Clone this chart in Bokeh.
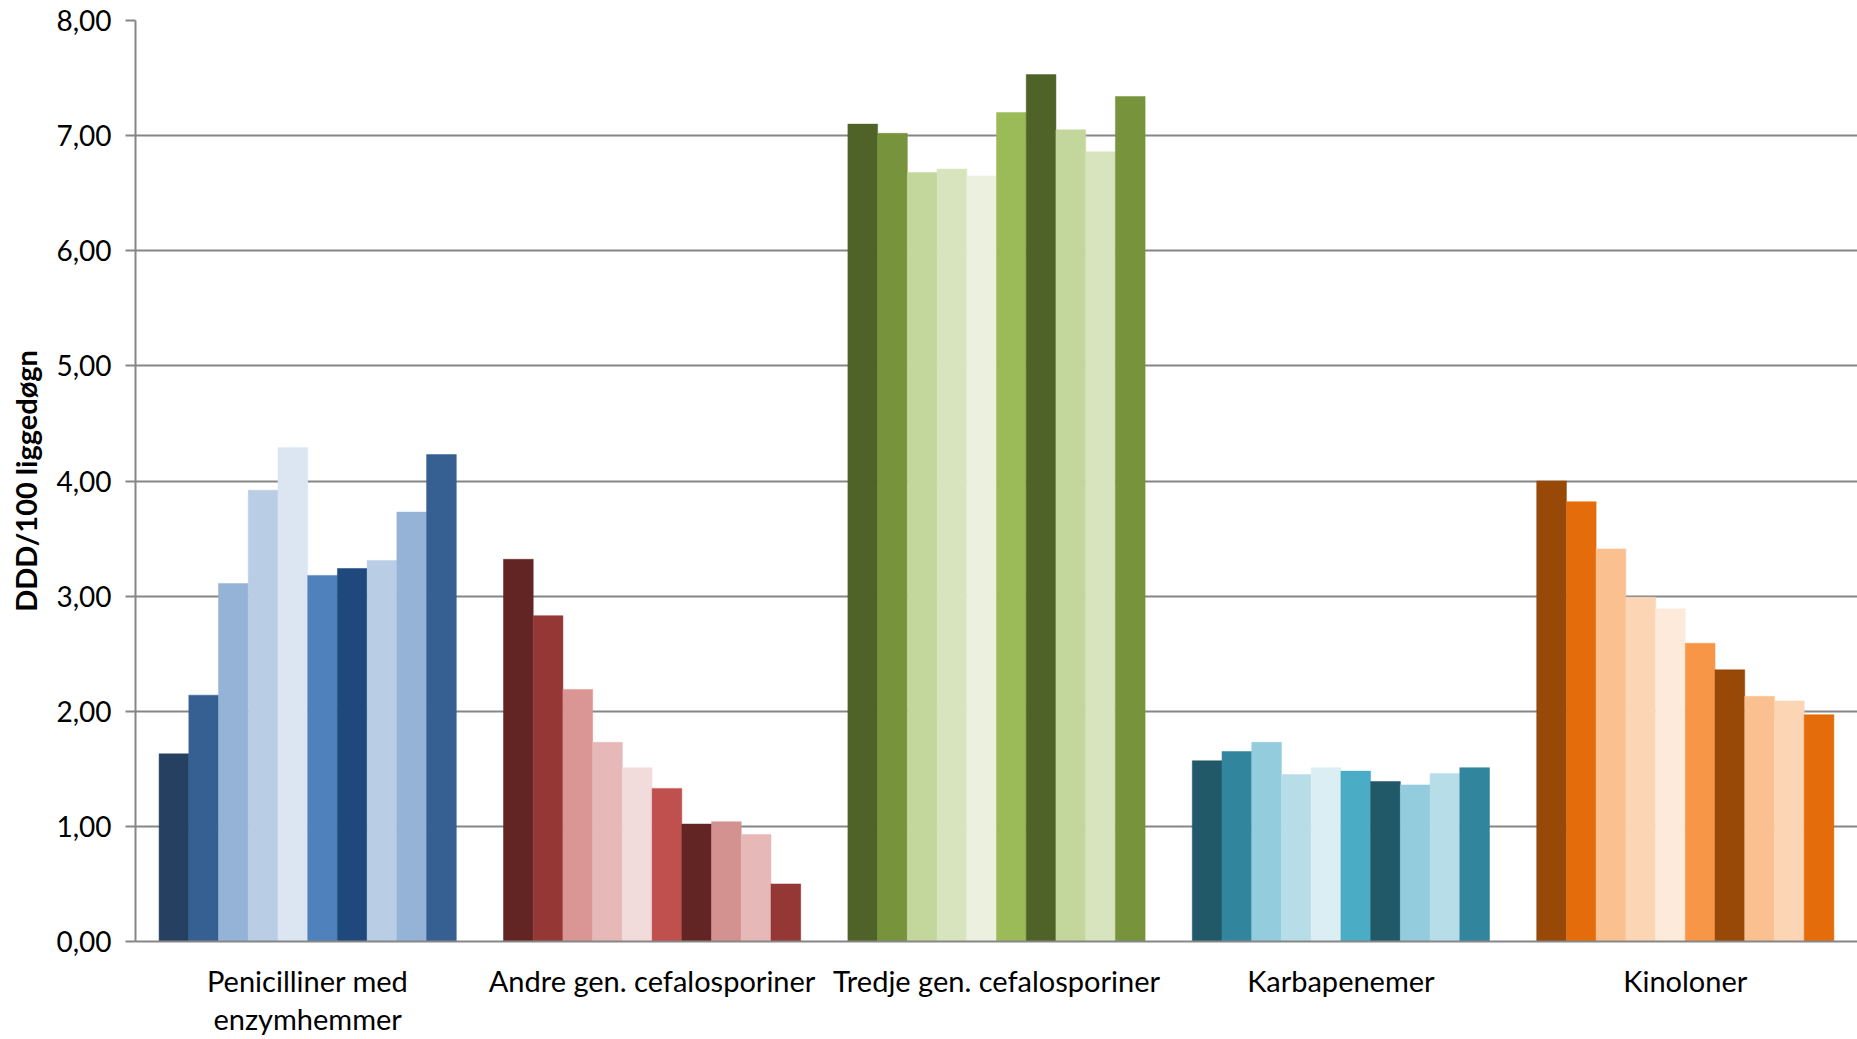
from bokeh.plotting import figure
from bokeh.models import FactorRange, FixedTicker, ColumnDataSource
from bokeh.transform import dodge
from bokeh.embed import file_html
from bokeh.resources import INLINE

categories = ["Penicilliner med\nenzymhemmer", "Andre gen. cefalosporiner",
              "Tredje gen. cefalosporiner", "Karbapenemer", "Kinoloner"]
series = ["Serie 1", "Serie 2", "Serie 3", "Serie 4", "Serie 5",
          "Serie 6", "Serie 7", "Serie 8", "Serie 9", "Serie 10"]

penicilliner = [1.63, 2.14, 3.11, 3.92, 4.29, 3.18, 3.24, 3.31, 3.73, 4.23]
andre_gen = [3.32, 2.83, 2.19, 1.73, 1.51, 1.33, 1.02, 1.04, 0.93, 0.50]
tredje_gen = [7.10, 7.02, 6.68, 6.71, 6.65, 7.20, 7.53, 7.05, 6.86, 7.34]
karbapenemer = [1.57, 1.65, 1.73, 1.45, 1.51, 1.48, 1.39, 1.36, 1.46, 1.51]
kinoloner = [4.00, 3.82, 3.41, 2.99, 2.89, 2.59, 2.36, 2.13, 2.09, 1.97]

blue = ["#254061", "#366092", "#95B3D7", "#B9CDE5", "#DCE6F2",
        "#4F81BD", "#1F497D", "#B9CDE5", "#95B3D7", "#366092"]
red = ["#632523", "#953735", "#D99694", "#E6B9B8", "#F2DCDB",
       "#C0504D", "#632523", "#D39190", "#E6B9B8", "#953735"]
green = ["#4F6228", "#77933C", "#C3D69B", "#D7E4BD", "#EBF1DE",
         "#9BBB59", "#4F6228", "#C3D69B", "#D7E4BD", "#77933C"]
teal = ["#215968", "#31859C", "#93CDDD", "#B7DEE8", "#DBEEF4",
        "#4BACC6", "#215968", "#93CDDD", "#B7DEE8", "#31859C"]
orange = ["#984807", "#E46C0A", "#FAC090", "#FCD5B5", "#FDEADA",
          "#F79646", "#984807", "#FAC090", "#FCD5B5", "#E46C0A"]

y_ticks = [0, 1, 2, 3, 4, 5, 6, 7, 8]
y_tick_labels = ["0,00", "1,00", "2,00", "3,00", "4,00", "5,00", "6,00", "7,00", "8,00"]

groups = [penicilliner, andre_gen, tredje_gen, karbapenemer, kinoloner]
group_colors = [blue, red, green, teal, orange]

FONT = "Lato"
GRID = "#868686"

p = figure(x_range=FactorRange(*categories, range_padding=0),
           y_range=(0, 8), width=1857, height=1039,
           output_backend="svg", toolbar_location=None,
           min_border_left=135, min_border_right=0,
           min_border_top=20, min_border_bottom=87)
p.outline_line_color = None
p.background_fill_color = "white"
p.border_fill_color = "white"

bar_w = 0.0863
for j, name in enumerate(series):
    src = ColumnDataSource(dict(cat=categories,
                                top=[g[j] for g in groups],
                                color=[c[j] for c in group_colors]))
    p.vbar(x=dodge("cat", (j - 4.5) * bar_w, range=p.x_range), top="top",
           bottom=0, width=bar_w, source=src, fill_color="color",
           line_color="color", line_width=0.5, name=name)

p.xgrid.grid_line_color = None
p.ygrid.grid_line_color = GRID
p.ygrid.grid_line_width = 2

p.yaxis.ticker = FixedTicker(ticks=y_ticks)
p.yaxis.major_label_overrides = {t: l for t, l in zip(y_ticks, y_tick_labels)}
p.yaxis.axis_line_color = GRID
p.yaxis.axis_line_width = 2
p.yaxis.major_tick_line_color = GRID
p.yaxis.major_tick_line_width = 2
p.yaxis.major_tick_out = 10
p.yaxis.major_tick_in = 0
p.yaxis.minor_tick_line_color = None
p.yaxis.major_label_text_font = FONT
p.yaxis.major_label_text_font_size = "28px"
p.yaxis.major_label_text_color = "black"
p.yaxis.major_label_standoff = 14
p.yaxis.axis_label = "DDD/100 liggedøgn"
p.yaxis.axis_label_text_font = FONT
p.yaxis.axis_label_text_font_style = "bold"
p.yaxis.axis_label_text_font_size = "29px"
p.yaxis.axis_label_text_color = "black"
p.yaxis.axis_label_standoff = 10

p.xaxis.axis_line_color = GRID
p.xaxis.axis_line_width = 2
p.xaxis.major_tick_line_color = None
p.xaxis.minor_tick_line_color = None
p.xaxis.major_label_text_font = FONT
p.xaxis.major_label_text_font_size = "29px"
p.xaxis.major_label_text_line_height = 1.1
p.xaxis.major_label_text_color = "black"
p.xaxis.major_label_standoff = 15

open("out.html", "w").write(file_html(p, INLINE))
